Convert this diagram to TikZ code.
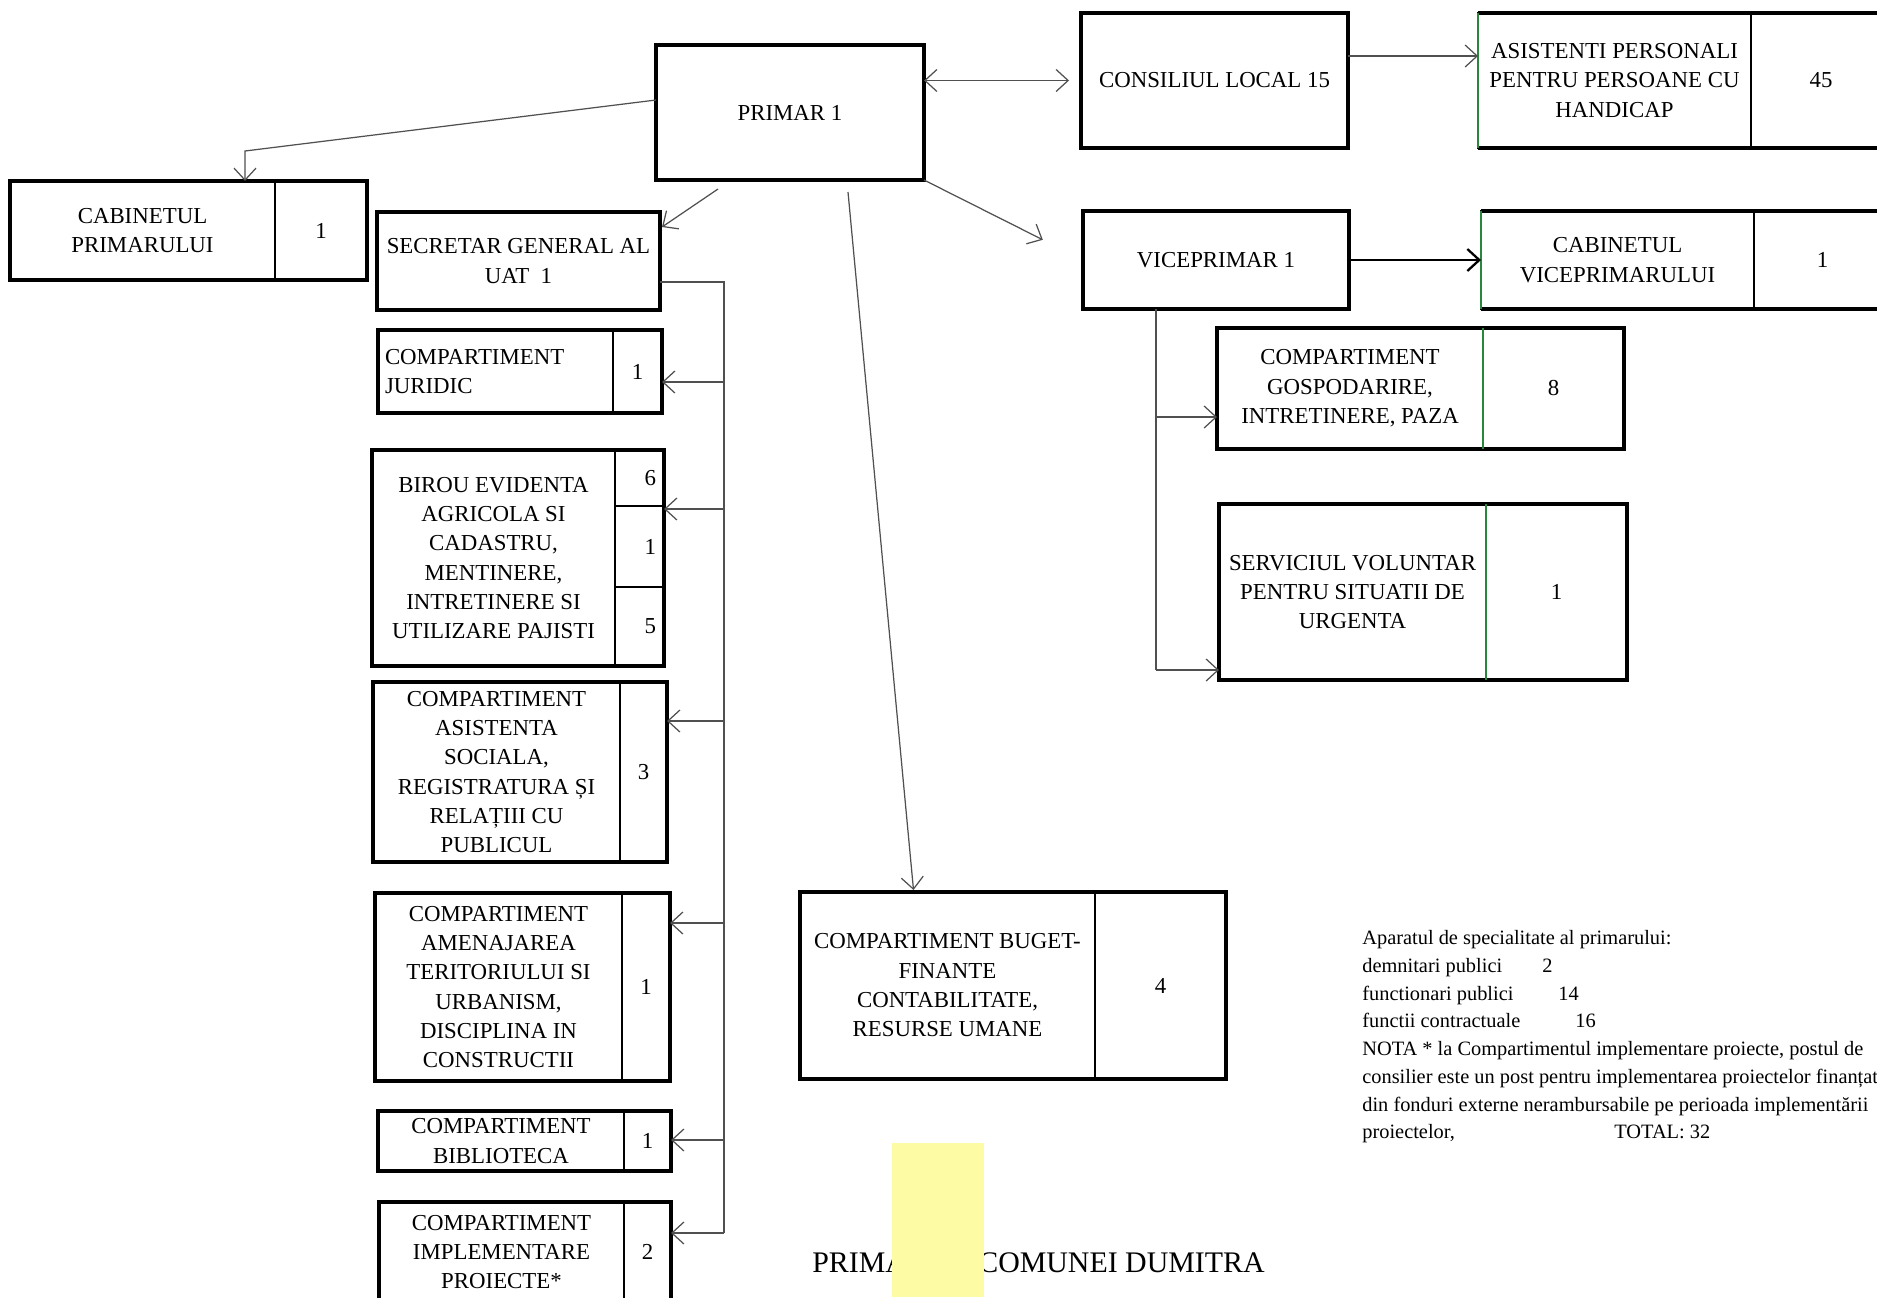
\documentclass[tikz,border=0pt]{standalone}
\usepackage{fontspec}
\setmainfont{Liberation Serif}
\usetikzlibrary{arrows.meta,calc}
\definecolor{scangray}{RGB}{80,80,80}
\definecolor{markyellow}{RGB}{253,252,165}
\definecolor{edgegreen}{RGB}{40,135,60}
\newcommand{\pxu}{0.2mm}

\tikzset{
  barb/.tip={Straight Barb[length=2.4mm,width=4.4mm]},
  cell/.style args={#1/#2}{draw=black, line width=0.9pt, inner sep=0pt, outer sep=0pt,
    minimum width=#1*\pxu, minimum height=#2*\pxu, align=center,
    font=\fontsize{13}{16.7}\selectfont},
  solo/.style={line width=1.8pt},
  frame/.style={draw=black, line width=1.8pt},
  conn/.style={draw=scangray, line width=0.7pt},
  linkarrow/.style={-barb},
  notetext/.style={font=\fontsize{11.6}{15.8}\selectfont, align=left, inner sep=0pt},
}

\begin{document}
\begin{tikzpicture}[x=0.2mm,y=-0.2mm]
\fill[white] (0,0) rectangle (1877,1297);
\useasboundingbox (0,0) rectangle (1877,1297);

% primar and the left column
\node[cell=268/135,solo] (primar) at (790,112.5) {PRIMAR 1};
\node[cell=265/99] (cabname) at (142.5,230.5) {CABINETUL\\PRIMARULUI};
\node[cell=92/99] (cabnum) at (321,230.5) {1};
\node[cell=283/98,solo] (secretar) at (518.5,261) {SECRETAR GENERAL AL\\UAT\ \ 1};
\node[cell=235/83,text width=221*\pxu,align=left] (jurname) at (495.5,371.5) {COMPARTIMENT\\JURIDIC};
\node[cell=49/83] (jurnum) at (637.5,371.5) {1};
\node[cell=243/216] (biname) at (493.5,558) {BIROU EVIDENTA\\AGRICOLA SI\\CADASTRU,\\MENTINERE,\\INTRETINERE SI\\UTILIZARE PAJISTI};
\node[cell=49/56,text width=33*\pxu,align=right] (biA) at (639.5,478) {6};
\node[cell=49/81,text width=33*\pxu,align=right] (biB) at (639.5,546.5) {1};
\node[cell=49/79,text width=33*\pxu,align=right] (biC) at (639.5,626.5) {5};
\node[cell=247/180] (asname) at (496.5,772) {COMPARTIMENT\\ASISTENTA\\SOCIALA,\\REGISTRATURA ȘI\\RELAȚIII CU\\PUBLICUL};
\node[cell=47/180] (asnum) at (643.5,772) {3};
\node[cell=247/188] (amname) at (498.5,987) {COMPARTIMENT\\AMENAJAREA\\TERITORIULUI SI\\URBANISM,\\DISCIPLINA IN\\CONSTRUCTII};
\node[cell=48/188] (amnum) at (646,987) {1};
\node[cell=246/60] (bbname) at (501,1141) {COMPARTIMENT\\BIBLIOTECA};
\node[cell=47/60] (bbnum) at (647.5,1141) {1};
\node[cell=245/100] (ipname) at (501.5,1252) {COMPARTIMENT\\IMPLEMENTARE\\PROIECTE*};
\node[cell=47/100] (ipnum) at (647.5,1252) {2};
\node[cell=295/187] (bgname) at (947.5,985.5) {COMPARTIMENT BUGET-\\FINANTE\\CONTABILITATE,\\RESURSE UMANE};
\node[cell=131/187] (bgnum) at (1160.5,985.5) {4};

% consiliu, viceprimar and the right column
\node[cell=267/135,solo] (consiliu) at (1214.5,80.5) {CONSILIUL LOCAL 15};
\node[cell=273/135] (apname) at (1614.5,80.5) {ASISTENTI PERSONALI\\PENTRU PERSOANE CU\\HANDICAP};
\node[cell=140/135] (apnum) at (1821,80.5) {45};
\node[cell=266/98,solo] (vice) at (1216,260) {VICEPRIMAR 1};
\node[cell=273/98] (cvname) at (1617.5,260) {CABINETUL\\VICEPRIMARULUI};
\node[cell=137/98] (cvnum) at (1822.5,260) {1};
\node[cell=266/121] (gpname) at (1350,388.5) {COMPARTIMENT\\GOSPODARIRE,\\INTRETINERE, PAZA};
\node[cell=141/121] (gpnum) at (1553.5,388.5) {8};
\node[cell=267/176] (svname) at (1352.5,592) {SERVICIUL VOLUNTAR\\PENTRU SITUATII DE\\URGENTA};
\node[cell=141/176] (svnum) at (1556.5,592) {1};

% heavy outer frames
\foreach \a/\b in {cabname/cabnum, jurname/jurnum, biname/biC, asname/asnum, amname/amnum,
    bbname/bbnum, ipname/ipnum, bgname/bgnum, gpname/gpnum, svname/svnum}
  \draw[frame] (\a.north west) rectangle (\b.south east);
\foreach \a/\b in {apname/apnum, cvname/cvnum}
  \draw[frame] (\a.north west) -- (\b.north east) (\a.south west) -- (\b.south east);
\draw[edgegreen,line width=0.9pt] (apname.north west) -- (apname.south west)
  (cvname.north west) -- (cvname.south west)
  (gpname.north east) -- (gpname.south east)
  (svname.north east) -- (svname.south east);

% links from primar
\draw[conn,barb-barb] (primar.east |- consiliu.west) -- ([xshift=-12*\pxu]consiliu.west);
\draw[conn,linkarrow] ([yshift=24.5*\pxu]consiliu.east) coordinate (clout) -- (clout -| apname.west);
\draw[conn,linkarrow,shorten >=45*\pxu] (primar.south east) -- (vice.west);
\draw[draw=black,line width=1.3pt,linkarrow] (vice.east) -- (cvname.west);
\coordinate (cabbend) at (245,151);
\draw[conn,linkarrow] ([yshift=12.5*\pxu]primar.west) -- (cabbend) -- (cabbend |- cabname.north);
\draw[conn,linkarrow] ($(primar.south west)+(62,9)$) -- ($(secretar.north east)+(2,15)$);
\draw[conn,linkarrow] ($(primar.south)+(58,12)$) -- ($(bgname.north)+(-34,-2)$);

% secretar bus
\coordinate (sgbus) at (724,1233);
\draw[conn] ([yshift=-21*\pxu]secretar.east) -| (sgbus);
\foreach \n/\y in {jurnum/382, biB/509, asnum/721, amnum/923, bbnum/1140, ipnum/1233} {
  \coordinate (hy) at (0,\y);
  \draw[conn,linkarrow] (hy -| sgbus) -- (hy -| \n.east);
}

% viceprimar bus
\coordinate (vpbus) at ($(vice.south west)+(73,0)$);
\coordinate (vpend) at (1156,670);
\draw[conn] (vpbus) -- (vpend);
\foreach \n/\y in {gpname/417, svname/670} {
  \coordinate (hy) at (0,\y);
  \draw[conn,linkarrow] (hy -| vpbus) -- (hy -| \n.west);
}

% title and note
\node[font=\fontsize{17}{20}\selectfont,anchor=base west,inner sep=0pt] (titleA) at (812,1272) {PRIMA};
\node[font=\fontsize{17}{20}\selectfont,anchor=base east,inner sep=0pt] (titleB) at (1265,1272) {COMUNEI DUMITRA};
\fill[markyellow] (892,1143) rectangle (984,1297);
\node[notetext,anchor=north west] (note) at (1362,930) {Aparatul de specialitate al primarului:\\
  \makebox[36mm][l]{demnitari publici}2\\
  \makebox[39.2mm][l]{functionari publici}14\\
  \makebox[42.6mm][l]{functii contractuale}16\\
  NOTA * la Compartimentul implementare proiecte, postul de\\
  consilier este un post pentru implementarea proiectelor finanțat\\
  din fonduri externe nerambursabile pe perioada implementării\\
  \makebox[50.4mm][l]{proiectelor,}TOTAL: 32};
\end{tikzpicture}
\end{document}
